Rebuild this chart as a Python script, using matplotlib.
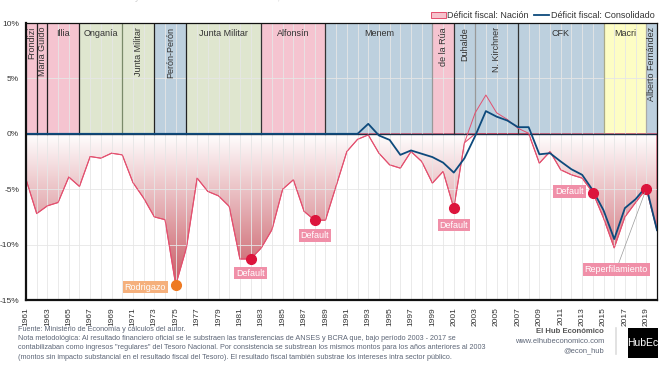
import numpy as np
import matplotlib.pyplot as plt
from matplotlib.colors import LinearSegmentedColormap
from matplotlib.lines import Line2D
from matplotlib.patches import Patch

plt.rcParams['font.family'] = ['Liberation Sans', 'DejaVu Sans']

# --- data (% del PBI) ---
years = np.arange(1961, 2021)
nacion = [-4.1, -7.2, -6.5, -6.2, -3.9, -4.75, -2.05, -2.2, -1.75, -1.9,
          -4.4, -5.8, -7.5, -7.75, -13.65, -10.3, -4.0, -5.2, -5.6, -6.55,
          -11.3, -11.3, -10.3, -8.65, -5.0, -4.15, -7.0, -7.8, -7.8, -4.7,
          -1.6, -0.5, -0.1, -1.75, -2.8, -3.1, -1.6, -2.5, -4.45, -3.4,
          -6.7, -0.8, 1.9, 3.5, 1.9, 1.3, 0.5, 0.05, -2.65, -1.6,
          -3.25, -3.7, -4.0, -5.3, -7.6, -10.3, -7.5, -6.2, -4.95, -8.7]
consolidado = [0.0, 0.0, 0.0, 0.0, 0.0, 0.0, 0.0, 0.0, 0.0, 0.0,
               0.0, 0.0, 0.0, 0.0, 0.0, 0.0, 0.0, 0.0, 0.0, 0.0,
               0.0, 0.0, 0.0, 0.0, 0.0, 0.0, 0.0, 0.0, 0.0, 0.0,
               0.0, 0.0, 0.9, -0.15, -0.55, -1.9, -1.5, -1.8, -2.1, -2.6,
               -3.5, -2.2, -0.2, 2.05, 1.55, 1.2, 0.6, 0.6, -1.85, -1.75,
               -2.5, -3.2, -3.7, -5.1, -6.9, -9.5, -6.7, -5.9, -4.75, -8.7]

gov_names = ['Frondizi', 'Maria Guido', 'Illia', 'Onganía', 'Junta Militar',
             'Perón-Perón', 'Junta Militar', 'Alfonsín', 'Menem', 'de la Rúa',
             'Duhalde', 'N. Kirchner', 'CFK', 'Macri', 'Alberto Fernández']
gov_start = [1961, 1962, 1963, 1966, 1970, 1973, 1976, 1983, 1989, 1999,
             2001, 2003, 2007, 2015, 2019]
gov_end = [1962, 1963, 1966, 1970, 1973, 1976, 1983, 1989, 1999, 2001,
           2003, 2007, 2015, 2019, 2020]
gov_party = ['ucr', 'ucr', 'ucr', 'mil', 'mil', 'pj', 'mil', 'ucr', 'pj', 'ucr',
             'pj', 'pj', 'pj', 'pro', 'pj']
gov_vertical = [True, True, False, False, True, True, False, False, False, True,
                True, True, False, False, True]

event_years = [1975, 1982, 1988, 2001, 2014, 2019]
event_labels = ['Rodrigazo', 'Default', 'Default', 'Default', 'Default', 'Reperfilamiento']

# --- styles ---
party_colors = {'ucr': '#f5c4d0', 'mil': '#dfe6cf', 'pj': '#bdd0de', 'pro': '#fdfdc4'}
sep_colors = ['#222222', '#222222', '#222222', '#7a8a6a', '#222222', '#222222',
              '#333333', '#333333', '#999999', '#333333', '#999999', '#333333',
              '#aaaa88', '#aaaaaa']
col_nacion = '#e3506f'
col_consol = '#0d4a7c'
txt_col = '#333333'
foot_col = '#5d6677'
event_style = [  # (dx, dy, ha, dot colour, box colour)
    (-10, -2, 'right', '#ee7a22', '#f5b07c'),
    (0, -14, 'center', '#dc143c', '#f08fa8'),
    (0, -15, 'center', '#dc143c', '#f08fa8'),
    (0, -17, 'center', '#dc143c', '#f08fa8'),
    (-9, 1, 'right', '#dc143c', '#f08fa8'),
    (-30, -81, 'center', '#dc143c', '#f08fa8'),
]

fig = plt.figure(figsize=(6.7, 3.79), dpi=100)
ax = fig.add_axes([0.0388, 0.2084, 0.9418, 0.7309])

# presidencies (upper band)
for i, name in enumerate(gov_names):
    s, e = gov_start[i], gov_end[i]
    ax.fill_between([s, e], 0, 10, color=party_colors[gov_party[i]], lw=0, zorder=0)
    if i > 0:
        ax.plot([s, s], [0, 10], color=sep_colors[i - 1], lw=0.9, zorder=3)
    if gov_vertical[i]:
        ax.text((s + e) / 2, 9.65, name, rotation=90, ha='center', va='top',
                fontsize=6.5, color=txt_col, zorder=4)
    else:
        ax.text((s + e) / 2, 9.45, name, ha='center', va='top',
                fontsize=6.5, color=txt_col, zorder=4)

# gradient fill under the nation deficit
nac_neg = np.minimum(nacion, 0)
poly = ax.fill_between(years, nac_neg, 0, facecolor='none', edgecolor=col_nacion,
                       lw=0.8, zorder=1.2)
cmap = LinearSegmentedColormap.from_list('def', ['#ffffff', '#c44a55'])
grad = np.linspace(0, 1, 256).reshape(-1, 1)
im = ax.imshow(grad, extent=[1961, 2020, -15, 0], origin='upper', cmap=cmap,
               aspect='auto', zorder=1)
im.set_clip_path(poly.get_paths()[0], transform=ax.transData)

ax.axhline(0, color='#1b2f45', lw=1.0, zorder=3)
ax.plot(years, nacion, color=col_nacion, lw=0.7, zorder=4)
ax.plot(years, consolidado, color=col_consol, lw=1.3, zorder=5)

# events
for i, yr in enumerate(event_years):
    val = nacion[yr - 1961]
    dx, dy, ha, dot_c, box_c = event_style[i]
    ax.plot(yr, val, 'o', ms=7, color=dot_c, zorder=7)
    arrow = None
    if event_labels[i] == 'Reperfilamiento':
        arrow = dict(arrowstyle='-', color='#9a9a9a', lw=0.5, shrinkA=0, shrinkB=3)
    ax.annotate(event_labels[i], xy=(yr, val), xytext=(dx, dy),
                textcoords='offset pixels', ha=ha, va='center', fontsize=6.5,
                color='white', zorder=8, arrowprops=arrow,
                bbox=dict(boxstyle='square,pad=0.2', fc=box_c, ec='none'))

# axes
ax.set_xlim(1961, 2020)
ax.set_ylim(-15, 10)
ax.set_yticks([-15, -10, -5, 0, 5, 10])
ax.set_yticklabels(['-15%', '-10%', '-5%', '0%', '5%', '10%'])
ax.set_xticks(np.arange(1961, 2020, 2))
ax.set_xticks(years, minor=True)
ax.tick_params(axis='both', which='both', length=0, labelsize=6, colors=txt_col)
ax.tick_params(axis='x', rotation=90, pad=5)
ax.tick_params(axis='y', pad=5)
ax.grid(axis='x', which='both', color='#e6e6e6', lw=0.6)
ax.grid(axis='y', which='major', color='#e6e6e6', lw=0.6)
for side in ['left', 'bottom']:
    ax.spines[side].set_linewidth(1.6)
for side in ['top', 'right']:
    ax.spines[side].set_linewidth(0.9)
for sp in ax.spines.values():
    sp.set_color('#111111')
    sp.set_zorder(9)

# legend
handles = [Patch(facecolor='#f6c3cd', edgecolor=col_nacion, lw=0.7),
           Line2D([], [], color=col_consol, lw=1.3)]
ax.legend(handles, ['Déficit fiscal: Nación', 'Déficit fiscal: Consolidado'],
          loc='lower right', bbox_to_anchor=(1.0, 1.0), ncol=2, frameon=False,
          fontsize=6.5, handlelength=1.6, handletextpad=0.2, columnspacing=0.6,
          borderpad=0.1, borderaxespad=0.2, labelcolor=txt_col)

# title, cut off at the top edge as in the source image
fig.text(0.01, 1 - 2.5 / 379, 'Resultado fiscal de la Nación y del Sector Público Consolidado, en % del PBI',
         fontsize=7, color='#d0d0d0', va='bottom', ha='left')

# footer
notes = ['Fuente: Ministerio de Economía y cálculos del autor.',
         'Nota metodológica: Al resultado financiero oficial se le substraen las transferencias de ANSES y BCRA que, bajo período 2003 - 2017 se',
         'contabilizaban como ingresos "regulares" del Tesoro Nacional. Por consistencia se substrean los mismos montos para los años anteriores al 2003',
         '(montos sin impacto substancial en el resultado fiscal del Tesoro). El resultado fiscal también substrae los intereses intra sector público.']
for k, line in enumerate(notes):
    fig.text(18 / 670, 1 - (329.5 + 9.2 * k) / 379, line, fontsize=5.2,
             color=foot_col, va='center', ha='left')
fig.text(604 / 670, 1 - 331.5 / 379, 'El Hub Económico', fontsize=5.6,
         fontweight='bold', color='#555555', ha='right', va='center')
fig.text(604 / 670, 1 - 341.5 / 379, 'www.elhubeconomico.com', fontsize=5.4,
         color=foot_col, ha='right', va='center')
fig.text(604 / 670, 1 - 350.5 / 379, '@econ_hub', fontsize=5.4,
         color=foot_col, ha='right', va='center')
fig.add_artist(Line2D([616 / 670, 616 / 670], [1 - 328 / 379, 1 - 354 / 379],
                      color='#dddddd', lw=1.2))
logo = fig.add_axes([627.5 / 670, 1 - 358 / 379, 30.5 / 670, 30 / 379])
logo.set_facecolor('black')
logo.set_xticks([])
logo.set_yticks([])
for sp in logo.spines.values():
    sp.set_visible(False)
logo.text(0.5, 0.5, 'HubEc', color='white', fontsize=7.5, ha='center', va='center',
          transform=logo.transAxes)

fig.savefig('out.png', dpi=100)
